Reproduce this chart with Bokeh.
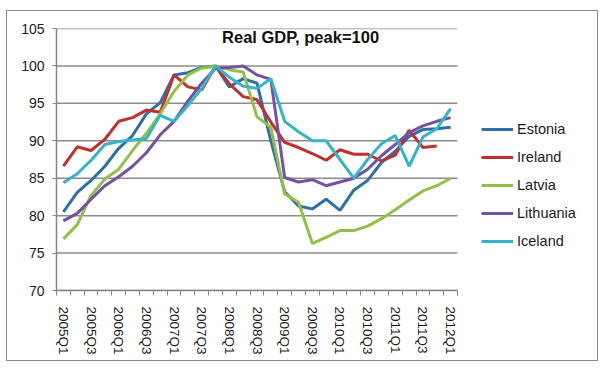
import numpy as np
from bokeh.plotting import figure
from bokeh.models import FixedTicker, Range1d, Legend, LegendItem, Label
from bokeh.embed import file_html
from bokeh.resources import INLINE

quarters = [f"{y}Q{q}" for y in range(2005, 2013) for q in range(1, 5)][:29]

estonia = [80.5, 83.1, 84.7, 86.6, 89.0, 90.7, 93.6, 95.1, 98.8, 99.1, 99.8, 100.0,
           97.2, 98.3, 97.7, 90.0, 83.2, 81.3, 80.9, 82.2, 80.7, 83.4, 84.7, 87.1,
           88.6, 90.6, 91.5, 91.6, 91.8]
ireland = [86.6, 89.2, 88.7, 90.2, 92.6, 93.1, 94.1, 93.8, 98.8, 97.2, 96.8, 100.0,
           97.6, 95.9, 95.5, 92.5, 89.8, 89.1, 88.3, 87.4, 88.8, 88.2, 88.2, 87.3,
           88.1, 91.4, 89.1, 89.3, np.nan]
latvia = [76.9, 78.8, 82.7, 84.9, 86.2, 88.7, 91.0, 93.6, 96.6, 98.8, 99.7, 100.0,
          99.5, 99.2, 93.2, 91.8, 82.9, 81.8, 76.3, 77.1, 78.0, 78.0, 78.6, 79.6,
          80.8, 82.1, 83.3, 84.0, 85.0]
lithuania = [79.3, 80.3, 82.2, 84.0, 85.2, 86.6, 88.4, 90.8, 92.6, 95.3, 97.7, 99.7,
             99.8, 100.0, 98.8, 98.2, 85.1, 84.5, 84.8, 84.0, 84.5, 85.0, 86.2, 88.0,
             89.5, 91.1, 92.0, 92.6, 93.1]
iceland = [84.4, 85.6, 87.4, 89.5, 89.9, 90.1, 90.3, 93.4, 92.6, 94.7, 97.0, 100.0,
           98.5, 97.3, 97.0, 98.3, 92.6, 91.2, 90.0, 90.0, 87.5, 85.0, 87.5, 89.6,
           90.7, 86.6, 90.5, 91.6, 94.3]

series = [("Estonia", estonia, "#2E6FA7"),
          ("Ireland", ireland, "#C0302F"),
          ("Latvia", latvia, "#92C147"),
          ("Lithuania", lithuania, "#7451A4"),
          ("Iceland", iceland, "#35B3CA")]

y_ticks = [70, 75, 80, 85, 90, 95, 100, 105]

n = len(quarters)
xs = [i + 0.5 for i in range(n)]

FONT = "Liberation Sans"

# layout (pixels)
W, H = 592, 351
ML, MT, MB, MR = 49, 17, 72, 2
plot_w = 401                      # width used by the 29 quarters
frame_w = W - ML - MR
x_end = n * frame_w / plot_w      # extra room on the right holds the legend

p = figure(width=W, height=H, output_backend="svg", toolbar_location=None,
           x_range=Range1d(0, x_end), y_range=Range1d(70, 105))
p.min_border_left = ML
p.min_border_top = MT
p.min_border_right = MR
p.min_border_bottom = MB
p.outline_line_color = None
p.background_fill_color = "white"
p.border_fill_color = "white"
p.styles = {"border": "1px solid #8a8a8a", "margin-left": "6px", "margin-top": "10px"}

# y axis
p.yaxis.ticker = FixedTicker(ticks=y_ticks)
p.yaxis.axis_line_color = "#868686"
p.yaxis.axis_line_width = 1.5
p.yaxis.major_tick_line_color = "#868686"
p.yaxis.major_tick_out = 4
p.yaxis.major_tick_in = 0
p.yaxis.minor_tick_line_color = None
p.yaxis.major_label_standoff = 8
p.yaxis.major_label_text_font = FONT
p.yaxis.major_label_text_font_size = "14px"
p.yaxis.major_label_text_color = "#1a1a1a"

# x axis
label_pos = [xs[i] for i in range(0, n, 2)]
p.xaxis.ticker = FixedTicker(ticks=label_pos, minor_ticks=list(range(0, n + 1)))
p.xaxis.bounds = (0, n)
p.xaxis.major_label_overrides = {xs[i]: quarters[i] for i in range(0, n, 2)}
p.xaxis.major_label_orientation = "vertical"
p.xaxis.axis_line_color = "#868686"
p.xaxis.axis_line_width = 1.5
p.xaxis.major_tick_line_color = None
p.xaxis.major_tick_out = 0
p.xaxis.major_tick_in = 0
p.xaxis.minor_tick_line_color = "#868686"
p.xaxis.minor_tick_out = 5
p.xaxis.minor_tick_in = 0
p.xaxis.major_label_standoff = 11
p.xaxis.major_label_text_font = FONT
p.xaxis.major_label_text_font_size = "13.5px"
p.xaxis.major_label_text_color = "#1a1a1a"

p.xgrid.grid_line_color = None
p.ygrid.grid_line_color = None
# horizontal gridlines limited to the quarters' extent
p.segment(x0=[0] * len(y_ticks), y0=y_ticks, x1=[n] * len(y_ticks), y1=y_ticks,
          line_color="#8c8c8c", line_width=1.5)

items = []
for name, vals, color in series:
    r = p.line(xs, vals, line_color=color, line_width=3)
    items.append(LegendItem(label=name, renderers=[r]))

legend = Legend(items=items, location=(425, 39))
legend.padding = 0
legend.margin = 0
legend.spacing = 8
legend.glyph_width = 32
legend.glyph_height = 20
legend.label_height = 20
legend.label_standoff = 4
legend.label_text_font = FONT
legend.label_text_font_size = "14.5px"
legend.label_text_color = "#1a1a1a"
legend.border_line_color = None
legend.background_fill_alpha = 0
p.add_layout(legend)

title = Label(x=17.65, y=103.9, text="Real GDP, peak=100", text_align="center",
              text_baseline="middle", text_font=FONT, text_font_size="16.5px",
              text_font_style="bold", text_color="#111111")
p.add_layout(title)

open("out.html", "w").write(file_html(p, INLINE))
